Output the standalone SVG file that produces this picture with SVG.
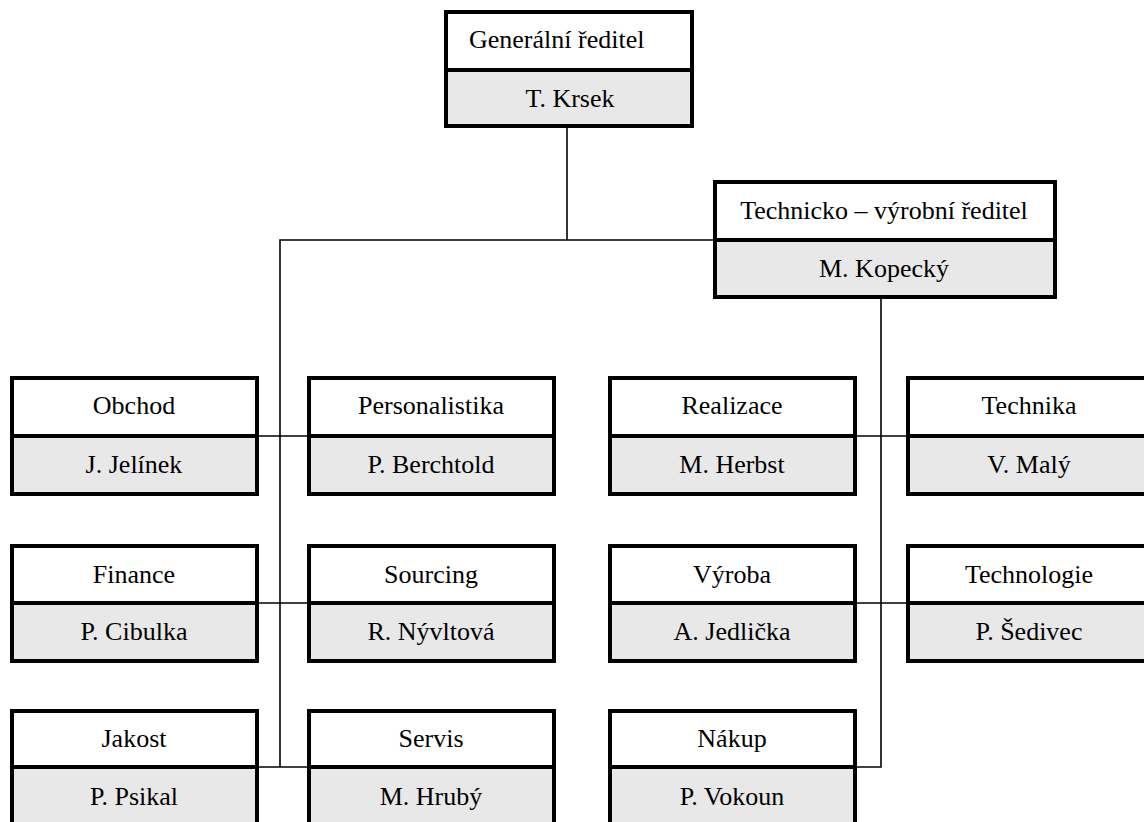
<svg xmlns="http://www.w3.org/2000/svg" width="1144" height="822" viewBox="0 0 1144 822">
  <style>
    .frame { fill: none; stroke: #000; stroke-width: 4; }
    .title { fill: #fff; }
    .name { fill: #e8e8e8; }
    .sep { stroke: #000; stroke-width: 4; }
    .link { fill: none; stroke: #000; stroke-width: 1.6; }
    text { font-family: "Liberation Serif", "Times New Roman", serif; font-size: 26px; fill: #000; text-anchor: middle; }
  </style>
  <rect width="1144" height="822" fill="#fff"/>

  <!-- connectors -->
  <g id="connectors">
    <polyline class="link" points="567,126 567,240"/>
    <polyline class="link" points="715,240 280,240 280,767"/>
    <line class="link" x1="257" y1="436" x2="309" y2="436"/>
    <line class="link" x1="257" y1="603" x2="309" y2="603"/>
    <line class="link" x1="257" y1="767" x2="309" y2="767"/>
    <polyline class="link" points="881,297 881,767 856,767"/>
    <line class="link" x1="855" y1="436" x2="908" y2="436"/>
    <line class="link" x1="855" y1="603" x2="908" y2="603"/>
  </g>

  <!-- top management -->
  <g id="generalni-reditel">
    <rect class="title" x="446" y="12" width="246" height="58"/>
    <rect class="name" x="446" y="70" width="246" height="56"/>
    <rect class="frame" x="446" y="12" width="246" height="114"/>
    <line class="sep" x1="446" y1="70" x2="692" y2="70"/>
    <text x="469" y="48" style="text-anchor:start">Generální ředitel</text>
    <text x="570" y="107">T. Krsek</text>
  </g>

  <g id="technicko-vyrobni-reditel">
    <rect class="title" x="715" y="182" width="340" height="58"/>
    <rect class="name" x="715" y="240" width="340" height="57"/>
    <rect class="frame" x="715" y="182" width="340" height="115"/>
    <line class="sep" x1="715" y1="240" x2="1055" y2="240"/>
    <text x="884" y="219">Technicko – výrobní ředitel</text>
    <text x="884" y="277">M. Kopecký</text>
  </g>

  <!-- row 1 -->
  <g id="obchod">
    <rect class="title" x="12" y="378" width="245" height="58"/>
    <rect class="name" x="12" y="436" width="245" height="58"/>
    <rect class="frame" x="12" y="378" width="245" height="116"/>
    <line class="sep" x1="12" y1="436" x2="257" y2="436"/>
    <text x="134" y="414">Obchod</text>
    <text x="134" y="473">J. Jelínek</text>
  </g>
  <g id="personalistika">
    <rect class="title" x="309" y="378" width="245" height="58"/>
    <rect class="name" x="309" y="436" width="245" height="58"/>
    <rect class="frame" x="309" y="378" width="245" height="116"/>
    <line class="sep" x1="309" y1="436" x2="554" y2="436"/>
    <text x="431" y="414">Personalistika</text>
    <text x="431" y="473">P. Berchtold</text>
  </g>
  <g id="realizace">
    <rect class="title" x="610" y="378" width="245" height="58"/>
    <rect class="name" x="610" y="436" width="245" height="58"/>
    <rect class="frame" x="610" y="378" width="245" height="116"/>
    <line class="sep" x1="610" y1="436" x2="855" y2="436"/>
    <text x="732" y="414">Realizace</text>
    <text x="732" y="473">M. Herbst</text>
  </g>
  <g id="technika">
    <rect class="title" x="908" y="378" width="245" height="58"/>
    <rect class="name" x="908" y="436" width="245" height="58"/>
    <rect class="frame" x="908" y="378" width="245" height="116"/>
    <line class="sep" x1="908" y1="436" x2="1153" y2="436"/>
    <text x="1029" y="414">Technika</text>
    <text x="1029" y="473">V. Malý</text>
  </g>

  <!-- row 2 -->
  <g id="finance">
    <rect class="title" x="12" y="546" width="245" height="57"/>
    <rect class="name" x="12" y="603" width="245" height="58"/>
    <rect class="frame" x="12" y="546" width="245" height="115"/>
    <line class="sep" x1="12" y1="603" x2="257" y2="603"/>
    <text x="134" y="583">Finance</text>
    <text x="134" y="640">P. Cibulka</text>
  </g>
  <g id="sourcing">
    <rect class="title" x="309" y="546" width="245" height="57"/>
    <rect class="name" x="309" y="603" width="245" height="58"/>
    <rect class="frame" x="309" y="546" width="245" height="115"/>
    <line class="sep" x1="309" y1="603" x2="554" y2="603"/>
    <text x="431" y="583">Sourcing</text>
    <text x="431" y="640">R. Nývltová</text>
  </g>
  <g id="vyroba">
    <rect class="title" x="610" y="546" width="245" height="57"/>
    <rect class="name" x="610" y="603" width="245" height="58"/>
    <rect class="frame" x="610" y="546" width="245" height="115"/>
    <line class="sep" x1="610" y1="603" x2="855" y2="603"/>
    <text x="732" y="583">Výroba</text>
    <text x="732" y="640">A. Jedlička</text>
  </g>
  <g id="technologie">
    <rect class="title" x="908" y="546" width="245" height="57"/>
    <rect class="name" x="908" y="603" width="245" height="58"/>
    <rect class="frame" x="908" y="546" width="245" height="115"/>
    <line class="sep" x1="908" y1="603" x2="1153" y2="603"/>
    <text x="1029" y="583">Technologie</text>
    <text x="1029" y="640">P. Šedivec</text>
  </g>

  <!-- row 3 -->
  <g id="jakost">
    <rect class="title" x="12" y="711" width="245" height="56"/>
    <rect class="name" x="12" y="767" width="245" height="60"/>
    <rect class="frame" x="12" y="711" width="245" height="116"/>
    <line class="sep" x1="12" y1="767" x2="257" y2="767"/>
    <text x="134" y="747">Jakost</text>
    <text x="134" y="805">P. Psikal</text>
  </g>
  <g id="servis">
    <rect class="title" x="309" y="711" width="245" height="56"/>
    <rect class="name" x="309" y="767" width="245" height="60"/>
    <rect class="frame" x="309" y="711" width="245" height="116"/>
    <line class="sep" x1="309" y1="767" x2="554" y2="767"/>
    <text x="431" y="747">Servis</text>
    <text x="431" y="805">M. Hrubý</text>
  </g>
  <g id="nakup">
    <rect class="title" x="610" y="711" width="245" height="56"/>
    <rect class="name" x="610" y="767" width="245" height="60"/>
    <rect class="frame" x="610" y="711" width="245" height="116"/>
    <line class="sep" x1="610" y1="767" x2="855" y2="767"/>
    <text x="732" y="747">Nákup</text>
    <text x="732" y="805">P. Vokoun</text>
  </g>
</svg>
